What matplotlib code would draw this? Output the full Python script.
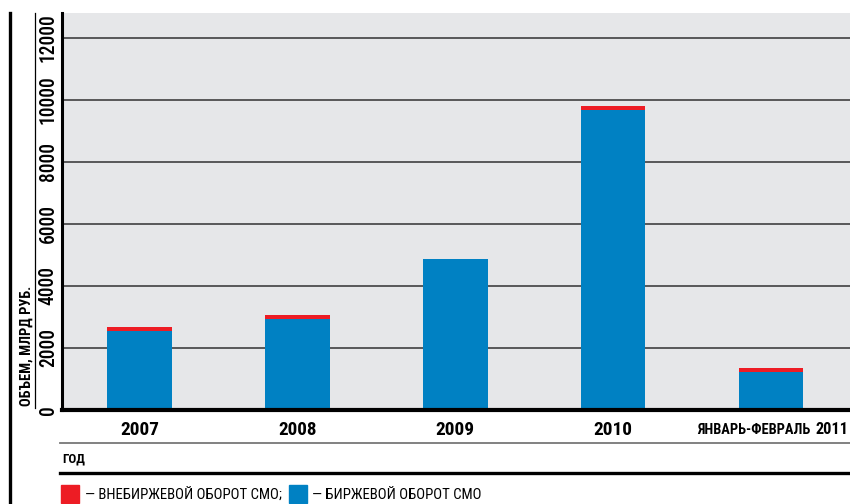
import matplotlib
matplotlib.use('Agg')
import matplotlib.pyplot as plt
from matplotlib import font_manager
from matplotlib.lines import Line2D
from matplotlib.patches import Rectangle

# данные: оборот СМО, млрд руб.
years = ['2007', '2008', '2009', '2010', '2011']
exchange = [2550, 2935, 4870, 9680, 1225]   # биржевой оборот
otc = [130, 130, 0, 130, 130]               # внебиржевой оборот
yticks = [0, 2000, 4000, 6000, 8000, 10000, 12000]

blue = '#0081c3'
red = '#ed1c24'
bg = '#e6e7e9'

# узкий шрифт, если есть
have = {f.name for f in font_manager.fontManager.ttflist}
narrow = [n for n in ['Liberation Sans Narrow', 'DejaVu Sans Condensed', 'Roboto Condensed']
          if n in have]
plt.rcParams['font.family'] = narrow + ['DejaVu Sans']

W, H = 850, 504
fig = plt.figure(figsize=(8.5, 5.04), dpi=100)
ax = fig.add_axes([62 / W, 1 - 410 / H, 1 - 62 / W, (410 - 13) / H])
ax.set_facecolor(bg)

x = list(range(len(years)))
ax.bar(x, exchange, width=0.41, color=blue, zorder=3)
ax.bar(x, otc, width=0.41, bottom=exchange, color=red, zorder=3)

ax.set_xlim(-0.49, 4.5)
ax.set_ylim(0, 12800)
ax.set_yticks(yticks)
ax.set_yticklabels([str(v) for v in yticks], rotation=90, va='center', fontsize=14,
                   fontweight='medium')
ax.yaxis.grid(True, color='#4d4d4d', lw=1.3, zorder=1)
ax.tick_params(length=0)
ax.tick_params(axis='y', pad=3)

ax.set_xticks(x[:4])
ax.set_xticklabels(years[:4], fontsize=14.5, fontweight='bold')
ax.tick_params(axis='x', pad=8)

for s in ['top', 'right']:
    ax.spines[s].set_visible(False)
ax.spines['bottom'].set_linewidth(3)
ax.spines['left'].set_linewidth(2.2)
ax.spines['bottom'].set_zorder(5)
ax.spines['left'].set_zorder(5)

# подпись последнего столбца: два размера шрифта
t2011 = fig.text(848 / W, 1 - 429 / H, years[4], ha='right', va='center',
                 fontsize=14.5, fontweight='bold')
tjf = fig.text(810 / W, 1 - 430 / H, 'ЯНВАРЬ-ФЕВРАЛЬ', ha='right', va='center',
               fontsize=10.5, fontweight='bold')

# подпись оси Y
tyl = fig.text(27 / W, 1 - 406 / H, 'ОБЪЕМ, МЛРД РУБ.', rotation=90, ha='center',
               va='bottom', fontsize=10.5, fontweight='bold')

# линии оформления
fig.add_artist(Line2D([10 / W, 10 / W], [0, 1 - 13 / H], color='black', lw=2.4))
fig.add_artist(Line2D([35 / W, 35 / W], [1 - 408 / H, 1 - 13 / H], color='black', lw=0.9))
fig.add_artist(Line2D([60 / W, 1], [1 - 443 / H] * 2, color='#777777', lw=1.3))
fig.add_artist(Line2D([60 / W, 1], [1 - 473 / H] * 2, color='black', lw=2.4))

tgod = fig.text(62 / W, 1 - 459 / H, 'ГОД', ha='left', va='center', fontsize=10.5,
                fontweight='bold')

# легенда
fig.add_artist(Rectangle((61 / W, 1 - 503 / H), 18 / W, 18 / H,
                         transform=fig.transFigure, color=red))
tl1 = fig.text(85 / W, 1 - 495 / H, '— ВНЕБИРЖЕВОЙ ОБОРОТ СМО;', ha='left', va='center',
               fontsize=10.5)
fig.add_artist(Rectangle((289 / W, 1 - 503 / H), 18 / W, 18 / H,
                         transform=fig.transFigure, color=blue))
tl2 = fig.text(312 / W, 1 - 495 / H, '— БИРЖЕВОЙ ОБОРОТ СМО', ha='left', va='center',
               fontsize=10.5)

# подгонка размеров текста под ширину в оригинале
fig.canvas.draw()
r = fig.canvas.get_renderer()


def fit(t, target, vertical=False):
    bb = t.get_window_extent(r)
    size = bb.height if vertical else bb.width
    t.set_fontsize(t.get_fontsize() * target / size)


fit(t2011, 33)
fit(tjf, 114)
fit(tyl, 120, vertical=True)
fit(tgod, 23)
fit(tl1, 198)
fit(tl2, 170)
for lab in ax.get_xticklabels():
    fit(lab, 39)
for lab in ax.get_yticklabels():
    fit(lab, 49 * len(lab.get_text()) / 5, vertical=True)

fig.savefig('out.png', dpi=100, facecolor='white')
